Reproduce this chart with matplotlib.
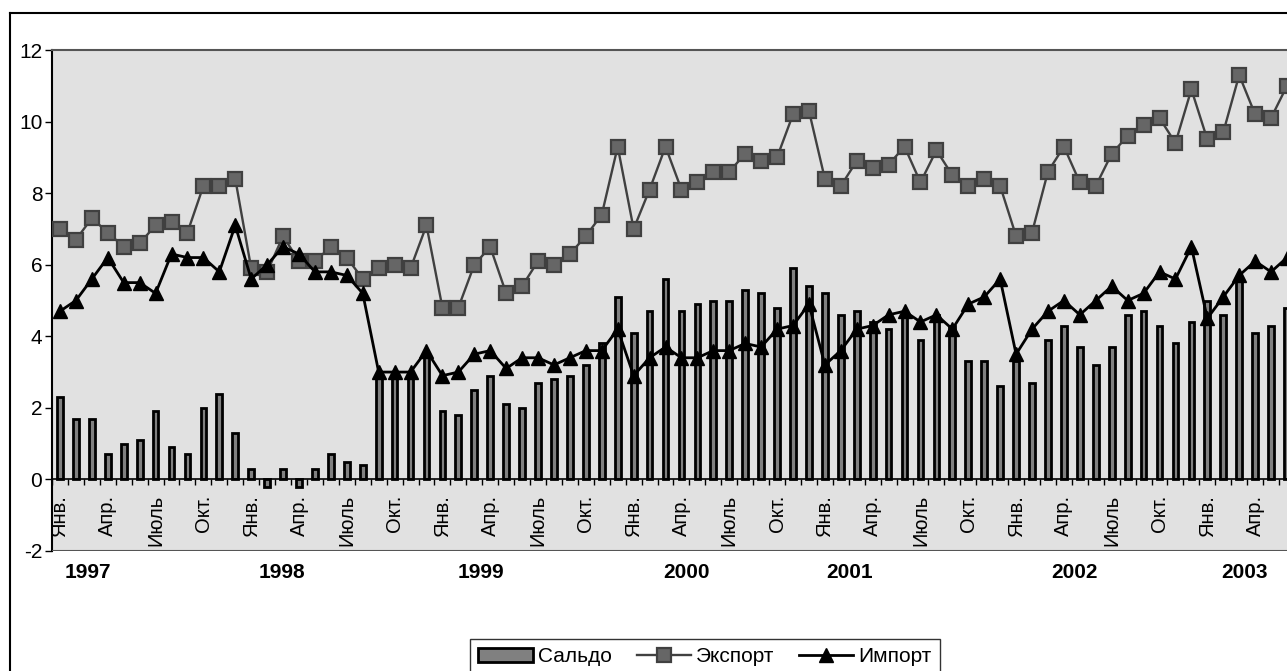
import numpy as np
import matplotlib
matplotlib.use('Agg')
import matplotlib.pyplot as plt
from matplotlib.lines import Line2D

plt.rcParams['font.family'] = ['Liberation Sans', 'DejaVu Sans']
plt.rcParams['axes.unicode_minus'] = False

# monthly values, Jan 1997 .. Jun 2003
export = [7.0, 6.7, 7.3, 6.9, 6.5, 6.6, 7.1, 7.2, 6.9, 8.2, 8.2, 8.4,
          5.9, 5.8, 6.8, 6.1, 6.1, 6.5, 6.2, 5.6, 5.9, 6.0, 5.9, 7.1,
          4.8, 4.8, 6.0, 6.5, 5.2, 5.4, 6.1, 6.0, 6.3, 6.8, 7.4, 9.3,
          7.0, 8.1, 9.3, 8.1, 8.3, 8.6, 8.6, 9.1, 8.9, 9.0, 10.2, 10.3,
          8.4, 8.2, 8.9, 8.7, 8.8, 9.3, 8.3, 9.2, 8.5, 8.2, 8.4, 8.2,
          6.8, 6.9, 8.6, 9.3, 8.3, 8.2, 9.1, 9.6, 9.9, 10.1, 9.4, 10.9,
          9.5, 9.7, 11.3, 10.2, 10.1, 11.0]
imports = [4.7, 5.0, 5.6, 6.2, 5.5, 5.5, 5.2, 6.3, 6.2, 6.2, 5.8, 7.1,
           5.6, 6.0, 6.5, 6.3, 5.8, 5.8, 5.7, 5.2, 3.0, 3.0, 3.0, 3.6,
           2.9, 3.0, 3.5, 3.6, 3.1, 3.4, 3.4, 3.2, 3.4, 3.6, 3.6, 4.2,
           2.9, 3.4, 3.7, 3.4, 3.4, 3.6, 3.6, 3.8, 3.7, 4.2, 4.3, 4.9,
           3.2, 3.6, 4.2, 4.3, 4.6, 4.7, 4.4, 4.6, 4.2, 4.9, 5.1, 5.6,
           3.5, 4.2, 4.7, 5.0, 4.6, 5.0, 5.4, 5.0, 5.2, 5.8, 5.6, 6.5,
           4.5, 5.1, 5.7, 6.1, 5.8, 6.2]
saldo = [2.3, 1.7, 1.7, 0.7, 1.0, 1.1, 1.9, 0.9, 0.7, 2.0, 2.4, 1.3,
         0.3, -0.2, 0.3, -0.2, 0.3, 0.7, 0.5, 0.4, 2.9, 3.0, 2.9, 3.5,
         1.9, 1.8, 2.5, 2.9, 2.1, 2.0, 2.7, 2.8, 2.9, 3.2, 3.8, 5.1,
         4.1, 4.7, 5.6, 4.7, 4.9, 5.0, 5.0, 5.3, 5.2, 4.8, 5.9, 5.4,
         5.2, 4.6, 4.7, 4.4, 4.2, 4.6, 3.9, 4.6, 4.3, 3.3, 3.3, 2.6,
         3.3, 2.7, 3.9, 4.3, 3.7, 3.2, 3.7, 4.6, 4.7, 4.3, 3.8, 4.4,
         5.0, 4.6, 5.6, 4.1, 4.3, 4.8]
months = ['Янв.', 'Апр.', 'Июль', 'Окт.']
years = ['1997', '1998', '1999', '2000', '2001', '2002', '2003']
year_px = [88, 282, 481, 686, 850, 1075, 1245]

W, H = 1287, 671
fig = plt.figure(figsize=(W / 100, H / 100), dpi=100)
ax = fig.add_axes([52 / W, (H - 551) / H, 1 - 52 / W, 501 / H])
ax.set_facecolor('#e1e1e1')

x = np.arange(len(export))
b = ax.bar(x, saldo, width=0.36, color='#808080', edgecolor='black', linewidth=2,
           zorder=2, label='Сальдо')
l1, = ax.plot(x, export, color='#404040', lw=1.7, marker='s', markersize=9.5,
              markerfacecolor='#666666', markeredgecolor='#404040', markeredgewidth=1.6,
              zorder=3, label='Экспорт')
l2, = ax.plot(x, imports, color='black', lw=2, marker='^', markersize=10.5,
              markerfacecolor='black', markeredgecolor='black', zorder=4, label='Импорт')

ax.set_xlim(-0.5, 77.0)
ax.set_ylim(-2, 12)
ax.set_yticks(range(-2, 13, 2))
ax.tick_params(axis='y', length=5, width=1, labelsize=15, pad=2)

ax.spines['bottom'].set_position(('data', 0))
ax.spines['bottom'].set_linewidth(1.2)
ax.spines['left'].set_linewidth(1.5)
ax.spines['top'].set_color('#555555')
ax.spines['top'].set_linewidth(1.5)
ax.spines['right'].set_visible(False)
ax.axhline(-2, color='#555555', lw=1.5, zorder=5)

ticks = np.arange(0, len(export), 3)
ax.set_xticks(ticks)
ax.set_xticklabels([months[k % 4] for k in range(len(ticks))])
ax.tick_params(axis='x', which='major', length=0, pad=11, labelsize=14.5,
               labelrotation=90)
ax.set_xticks(np.arange(-0.5, 77.0, 1), minor=True)
ax.tick_params(axis='x', which='minor', length=4, width=1, direction='out')

for yr, px in zip(years, year_px):
    fig.text(px / W, 1 - 573 / H, yr, ha='center', va='center',
             fontsize=15, fontweight='bold')

# chart-area frame
fig.add_artist(Line2D([10 / W, 1], [1 - 13 / H, 1 - 13 / H], color='black', lw=1.5))
fig.add_artist(Line2D([10 / W, 10 / W], [0, 1 - 13 / H], color='black', lw=1.5))

leg = fig.legend([b, l1, l2], ['Сальдо', 'Экспорт', 'Импорт'],
                 loc='upper left', bbox_to_anchor=(470 / W, 1 - 639 / H),
                 ncol=3, fontsize=15, frameon=True, fancybox=False,
                 edgecolor='black', handlelength=2.6, handletextpad=0.25,
                 columnspacing=1.2, borderaxespad=0, borderpad=0.4)
leg.get_frame().set_linewidth(1)

fig.savefig('out.png', dpi=100)
